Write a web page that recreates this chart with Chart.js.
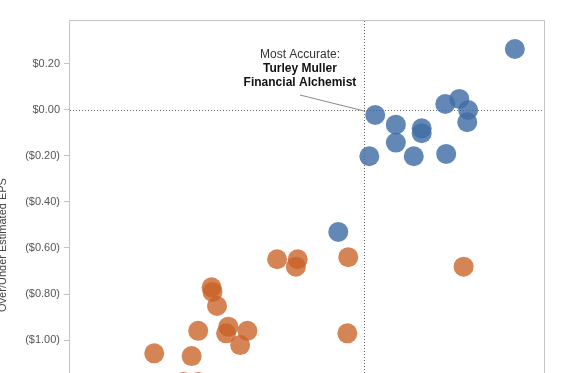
<!DOCTYPE html>
<html>
<head>
<meta charset="utf-8">
<script src="https://cdn.jsdelivr.net/npm/chart.js@4/dist/chart.umd.min.js"></script>
<style>
  html, body { margin:0; padding:0; background:#fff; overflow:hidden; }
  #wrap { position:relative; width:567px; height:373px; overflow:hidden; }
  #chart { position:absolute; left:-8px; top:0; }
</style>
</head>
<body>
<div id="wrap"><canvas id="chart" width="575" height="500"></canvas></div>
<script>
// 実績との差 (x) と EPS 予想の過不足 (y)
const blueX = [0.667, 0.360, 0.422, 0.461, 0.457, 0.051, 0.142, 0.256, 0.256, 0.142, 0.025, 0.221, 0.364, -0.112];
const blueY = [0.265, 0.026, 0.048, 0.000, -0.053, -0.022, -0.064, -0.080, -0.101, -0.142, -0.201, -0.201, -0.191, -0.530];
const orangeX = [-0.068, -0.382, -0.291, -0.299, 0.441, -0.671, -0.667, -0.647, -0.072, -0.730, -0.597, -0.607, -0.513, -0.545, -0.924, -0.759, -0.796, -0.730];
const orangeY = [-0.640, -0.649, -0.649, -0.681, -0.681, -0.771, -0.791, -0.852, -0.971, -0.960, -0.942, -0.971, -0.960, -1.022, -1.058, -1.070, -1.183, -1.183];
const yTicks = [0.2, 0, -0.2, -0.4, -0.6, -0.8, -1.0, -1.2, -1.4];
const noteLines = ['Most Accurate:', 'Turley Muller', 'Financial Alchemist'];
const notePos = { x: -0.281, y: 0.242 };     // テキスト中心
const leaderFrom = { x: -0.281, y: 0.065 };
const leaderTo = { x: 0, y: -0.004 };

const FONT = '"Liberation Sans", Arial, sans-serif';
const toPts = (xs, ys) => xs.map((x, i) => ({ x, y: ys[i] }));
const money = v => {
  const s = '$' + Math.abs(v).toFixed(2);
  return v < -1e-9 ? '(' + s + ')' : s;
};

// 枠・基準線・注記
const overlay = {
  id: 'overlay',
  beforeDatasetsDraw(chart) {
    const { ctx, chartArea: a, scales: { x, y } } = chart;
    ctx.save();
    ctx.strokeStyle = '#c4c4c4'; ctx.lineWidth = 1;
    ctx.beginPath();
    ctx.moveTo(a.left + 0.5, a.bottom); ctx.lineTo(a.left + 0.5, a.top + 0.5);
    ctx.lineTo(a.right - 0.5, a.top + 0.5); ctx.lineTo(a.right - 0.5, a.bottom);
    ctx.stroke();

    ctx.strokeStyle = '#666'; ctx.setLineDash([1, 2]);
    const y0 = Math.round(y.getPixelForValue(0)) + 0.5;
    const x0 = Math.round(x.getPixelForValue(0)) + 0.5;
    ctx.beginPath(); ctx.moveTo(a.left + 1, y0); ctx.lineTo(a.right - 2, y0); ctx.stroke();
    ctx.beginPath(); ctx.moveTo(x0, a.top + 1); ctx.lineTo(x0, a.bottom); ctx.stroke();
    ctx.setLineDash([]);

    ctx.strokeStyle = '#888';
    ctx.beginPath();
    ctx.moveTo(x.getPixelForValue(leaderFrom.x), y.getPixelForValue(leaderFrom.y));
    ctx.lineTo(x.getPixelForValue(leaderTo.x), y.getPixelForValue(leaderTo.y));
    ctx.stroke();

    const cx = x.getPixelForValue(notePos.x), cy = y.getPixelForValue(notePos.y);
    ctx.textAlign = 'center'; ctx.textBaseline = 'middle';
    noteLines.forEach((t, i) => {
      ctx.font = (i === 0 ? '' : 'bold ') + '12px ' + FONT;
      ctx.fillStyle = i === 0 ? '#333' : '#111';
      ctx.fillText(t, cx, cy + i * 14.2);
    });
    ctx.restore();
  }
};

new Chart(document.getElementById('chart'), {
  type: 'scatter',
  data: {
    datasets: [
      { data: toPts(blueX, blueY), backgroundColor: 'rgba(66,110,166,0.82)' },
      { data: toPts(orangeX, orangeY), backgroundColor: 'rgba(201,98,38,0.78)' }
    ]
  },
  options: {
    responsive: false, animation: false, devicePixelRatio: 1,
    layout: { autoPadding: false, padding: { top: 20, right: 22, bottom: 30, left: 0 } },
    elements: { point: { radius: 10, hoverRadius: 10, borderWidth: 0 } },
    plugins: { legend: { display: false }, tooltip: { enabled: false } },
    scales: {
      x: { type: 'linear', min: -1.3, max: 0.8, display: false },
      y: {
        type: 'linear', min: -1.565, max: 0.391,
        afterBuildTicks: s => { s.ticks = yTicks.map(v => ({ value: v })); },
        afterFit: s => { s.width = 77; },
        grid: { drawOnChartArea: false, drawTicks: true, tickLength: 5, tickColor: '#c4c4c4' },
        border: { display: false },
        ticks: { padding: 4, color: '#555', font: { family: FONT, size: 11 }, callback: v => money(v) },
        title: { display: true, text: 'Over/Under Estimated EPS', color: '#444',
                 font: { family: FONT, size: 11 }, padding: { top: 4.8, bottom: 0 } }
      }
    }
  },
  plugins: [overlay]
});
</script>
</body>
</html>
